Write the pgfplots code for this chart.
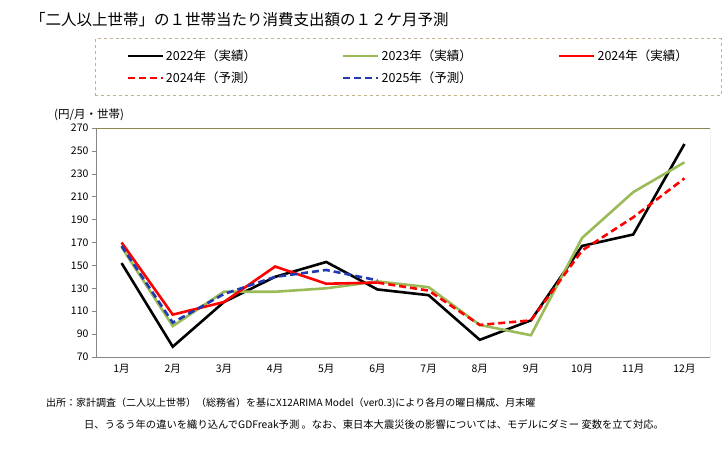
\documentclass[border=0pt]{standalone}
\usepackage{pgfplots}
\pgfplotsset{compat=1.18}
\usepackage{fontspec}
\setmainfont{Noto Sans CJK JP}
\definecolor{g23}{RGB}{155,187,89}
\definecolor{b25}{RGB}{32,56,176}
\definecolor{frameol}{RGB}{140,135,80}
\definecolor{legframe}{RGB}{190,180,140}
\definecolor{axgray}{RGB}{134,134,134}
\begin{document}
\begin{tikzpicture}
\path[use as bounding box] (0,0) rectangle (728bp,-450bp);
\node[anchor=west, inner sep=0pt, font=\fontsize{15.5bp}{17bp}\selectfont] at (30bp,-20bp) {「二人以上世帯」の１世帯当たり消費支出額の１２ケ月予測};
\node[anchor=west, inner sep=0pt, font=\fontsize{11.5bp}{13bp}\selectfont] at (54bp,-115bp) {(円/月・世帯)};
\node[anchor=west, inner sep=0pt, font=\fontsize{10bp}{12bp}\selectfont] at (46bp,-403bp) {出所：家計調査（二人以上世帯）（総務省）を基にX12ARIMA Model（ver0.3)により各月の曜日構成、月末曜};
\node[anchor=west, inner sep=0pt, font=\fontsize{10.3bp}{12bp}\selectfont] at (84bp,-425bp) {日、うるう年の違いを織り込んでGDFreak予測 。なお、東日本大震災後の影響については、モデルにダミー 変数を立て対応。};
\begin{axis}[
  at={(96bp,-357bp)}, anchor=south west,
  scale only axis, width=614bp, height=229bp,
  xmin=0.5, xmax=12.5, ymin=70, ymax=270,
  ytick={70,90,...,270},
  xtick={1,...,12},
  xticklabels={1月,2月,3月,4月,5月,6月,7月,8月,9月,10月,11月,12月},
  axis lines*=left,
  axis line style={draw=axgray, line width=0.8bp, -},
  tick align=outside, major tick length=4bp,
  xtick style={draw=none},
  ytick style={draw=axgray, line width=0.6bp},
  tick label style={font=\fontsize{10.5bp}{12bp}\selectfont},
  /pgf/number format/assume math mode=true,
  legend columns=3,
  legend image code/.code={\draw[#1] (0bp,0bp) -- (35bp,0bp);},
  legend style={at={(-0.0016,1.393)}, anchor=north west, draw=legframe, dashed, line width=0.6bp,
    font=\fontsize{12.5bp}{14bp}\selectfont, inner xsep=31bp, inner ysep=9.5bp, row sep=6bp,
    /tikz/every even column/.append style={column sep=84bp}},
  legend cell align=left,
]
\addplot[solid, black, line width=2.6bp] coordinates {(1,152)(2,79)(3,118)(4,140)(5,153)(6,129)(7,124)(8,85)(9,102)(10,167)(11,177)(12,256)};
\addlegendentry{2022年（実績）}
\addplot[solid, g23, line width=2.6bp] coordinates {(1,166)(2,97)(3,127)(4,127)(5,130)(6,136)(7,131)(8,98)(9,89)(10,174)(11,214)(12,240)};
\addlegendentry{2023年（実績）}
\addplot[solid, red, line width=2.6bp] coordinates {(1,170)(2,107)(3,118)(4,149)(5,134)(6,135)};
\addlegendentry{2024年（実績）}
\addplot[red, line width=2.6bp, dash pattern=on 7bp off 4bp] coordinates {(6,135)(7,128)(8,98)(9,102)(10,163)(11,192)(12,226)};
\addlegendentry{2024年（予測）}
\addplot[b25, line width=2.6bp, dash pattern=on 7bp off 4bp] coordinates {(1,167)(2,100)(3,125)(4,140)(5,146)(6,137)};
\addlegendentry{2025年（予測）}
\draw[frameol, line width=0.8bp] (rel axis cs:0,1) -- (rel axis cs:1,1) -- (rel axis cs:1,0);
\end{axis}
\end{tikzpicture}
\end{document}
